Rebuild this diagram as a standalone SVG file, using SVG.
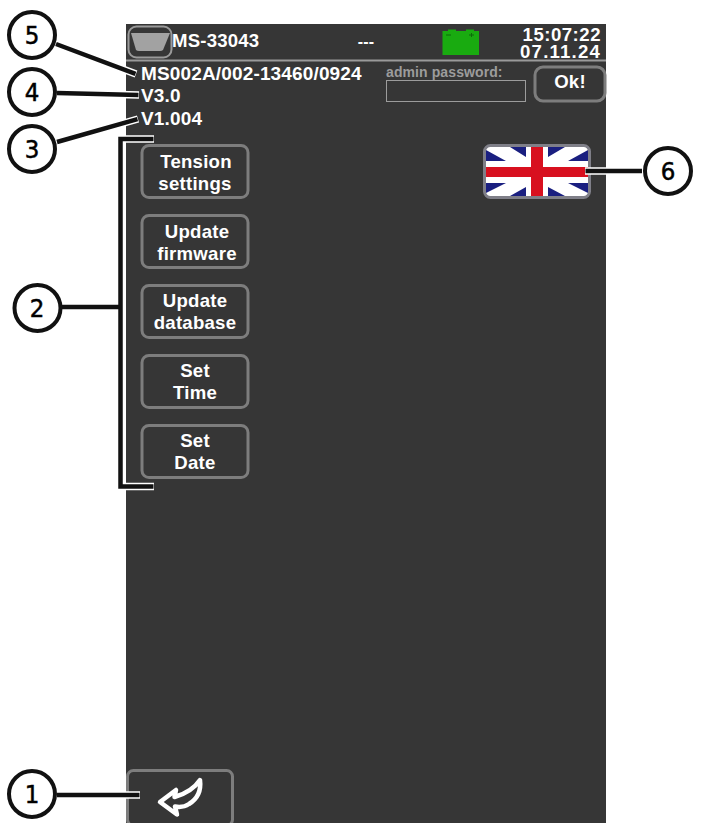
<svg xmlns="http://www.w3.org/2000/svg" width="719" height="823" viewBox="0 0 719 823">
<style>
text{font-family:"Liberation Sans",Arial,sans-serif;fill:#fff}
.b{font-weight:700;font-size:18.600px;letter-spacing:.25px}
.c{text-anchor:middle}
.btn{fill:#363636;stroke:#7d7d7d;stroke-width:3}
.call{fill:#fff;stroke:#111;stroke-width:4}
.num{font-family:"DejaVu Sans Condensed","DejaVu Sans",sans-serif;font-stretch:condensed;font-size:25.500px;fill:#000;stroke:#000;stroke-width:.5;text-anchor:middle;font-weight:400;letter-spacing:0}
.ln{fill:none;stroke:#111;stroke-width:4.500}
.halo{fill:none;stroke:#fff;stroke-width:7.500}
</style>
<rect id="screen" x="126" y="24" width="480" height="799" fill="#363636"/>
<g id="header">
<rect x="128.500" y="26.500" width="43" height="31" rx="8" fill="none" stroke="#9a9a9a" stroke-width="2"/>
<path d="M131 33H170L163 50Q162 51 160 51H139Q137 51 136 50Z" fill="#a2a2a2"/>
<text x="172" y="47" class="b" style="letter-spacing:.2px">MS-33043</text>
<text x="366" y="47" class="b c" style="font-size:16px">---</text>
<path d="M442.500 31H448V29.500H456V31H466V29.500H474V31H479V55H442.500Z" fill="#19ab10"/>
<path d="M446 35H451M469 35H474M471.500 33V37" stroke="#0d6b09" stroke-width="1"/>
<text x="601" y="41" class="b" text-anchor="end" style="letter-spacing:.5px">15:07:22</text>
<text x="601" y="57.500" class="b" text-anchor="end" style="letter-spacing:1.200px">07.11.24</text>
<rect x="126" y="59.500" width="480" height="2" fill="#9a9a9a"/>
</g>
<g id="info">
<text x="141" y="80" class="b" style="font-size:19px;letter-spacing:.15px">MS002A/002-13460/0924</text>
<text x="141" y="102" class="b" style="font-size:19px;letter-spacing:.15px">V3.0</text>
<text x="141" y="124.500" class="b" style="font-size:19px;letter-spacing:.15px">V1.004</text>
</g>
<g id="admin">
<text x="386" y="77" style="font-size:14px;font-weight:700;fill:#9c9c9c;letter-spacing:.1px">admin password:</text>
<rect x="386.500" y="80.500" width="139" height="21" fill="none" stroke="#9c9c9c" stroke-width="1"/>
</g>
<g id="ok"><rect class="btn" x="535" y="67" width="70" height="34" rx="8"/><text x="570" y="88" class="b c">Ok!</text></g>
<g id="btn-tension"><rect class="btn" x="142" y="145.500" width="106" height="52" rx="7"/><text class="b c" x="196" y="168">Tension</text><text class="b c" x="195" y="190">settings</text></g>
<g id="btn-firmware"><rect class="btn" x="142" y="215.500" width="106" height="52" rx="7"/><text class="b c" x="197" y="238">Update</text><text class="b c" x="197" y="260">firmware</text></g>
<g id="btn-database"><rect class="btn" x="142" y="285.500" width="106" height="52" rx="7"/><text class="b c" x="195" y="307">Update</text><text class="b c" x="195" y="329">database</text></g>
<g id="btn-time"><rect class="btn" x="142" y="355.500" width="106" height="52" rx="7"/><text class="b c" x="195" y="377">Set</text><text class="b c" x="195" y="399">Time</text></g>
<g id="btn-date"><rect class="btn" x="142" y="425.500" width="106" height="52" rx="7"/><text class="b c" x="195" y="447">Set</text><text class="b c" x="195" y="469">Date</text></g>
<g id="flag">
<rect x="484.500" y="145.500" width="105" height="52" rx="6" fill="#fff"/>
<path d="M486 150L506 161H486ZM510 147H526V157ZM548 147H565L548 157ZM588 150V161H568ZM486 183H506L486 193ZM526 187V196H510ZM548 187L565 196H548ZM568 183H588V193Z" fill="#1a1f80"/>
<path d="M531 147H543V196H531ZM486 167H588V177H486Z" fill="#d8101f"/>
<rect x="484.500" y="145.500" width="105" height="52" rx="6" fill="none" stroke="#7f7f88" stroke-width="3"/>
</g>
<g id="back">
<rect class="btn" x="127.500" y="770.500" width="105" height="55" rx="6"/>
<path d="M160 802L176 790L174.500 797Q192 792 200 780Q202 796 189 804Q183 808 175 806.500L177 814.500Z" fill="none" stroke="#fff" stroke-width="4.500" stroke-linejoin="round"/>
</g>
<g id="connectors">
<path class="halo" d="M136 74L56 44M139 95L57 93M138 119L57 142M140 795H57M585 171H642M154 139H120.500V486.500H154"/>
<path class="ln" d="M135.500 73.800L56 44M138.500 95L57 93M137.500 119.200L57 142M139.500 795H57M585.500 171H642M153.500 139H120.500V486.500H153.500M119 307H61"/>
</g>
<g id="callout-5"><circle class="call" cx="32" cy="35" r="23"/><text class="num" x="32" y="44">5</text></g>
<g id="callout-4"><circle class="call" cx="32" cy="92" r="23"/><text class="num" x="32" y="100.500">4</text></g>
<g id="callout-3"><circle class="call" cx="32" cy="149" r="23"/><text class="num" x="32" y="158">3</text></g>
<g id="callout-2"><circle class="call" cx="37.500" cy="308" r="23"/><text class="num" x="37" y="317">2</text></g>
<g id="callout-1"><circle class="call" cx="32" cy="794" r="23"/><text class="num" x="32" y="803">1</text></g>
<g id="callout-6"><circle class="call" cx="668" cy="171" r="23"/><text class="num" x="668" y="180">6</text></g>
</svg>
